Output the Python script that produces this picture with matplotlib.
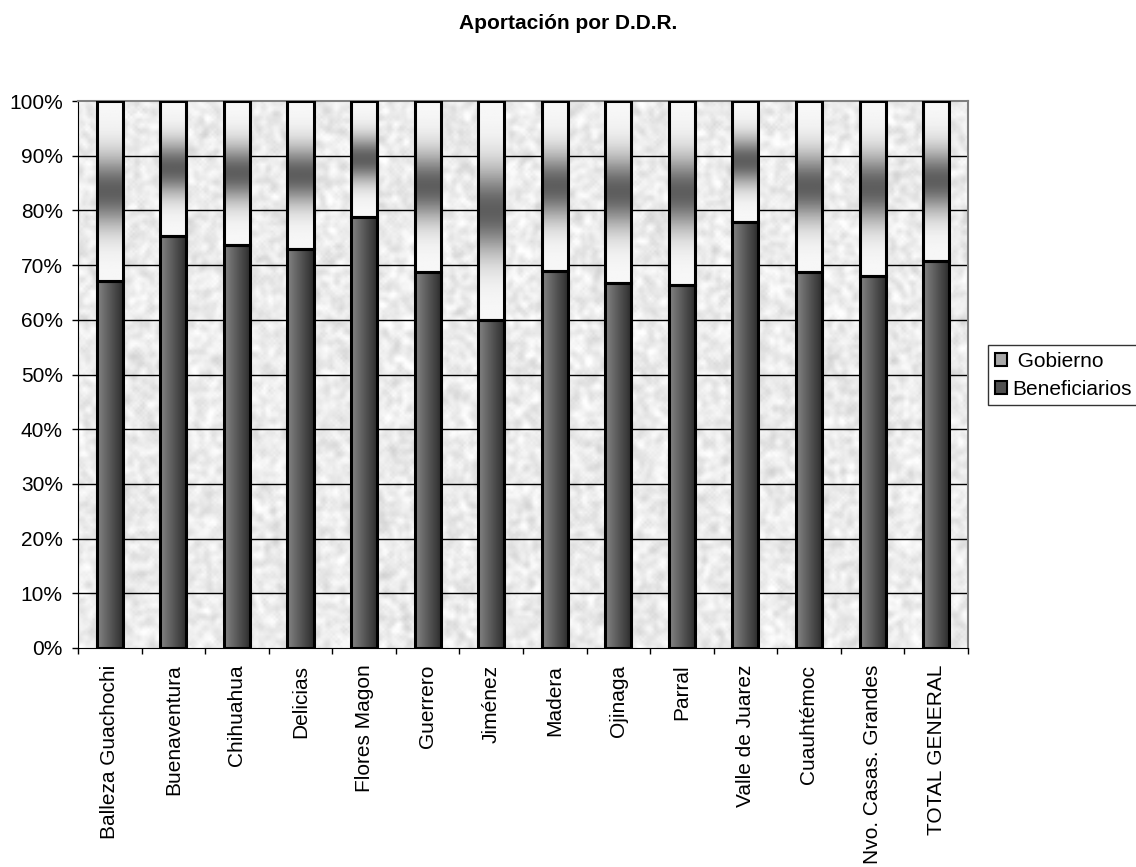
import matplotlib
matplotlib.use('Agg')
import matplotlib.pyplot as plt
from matplotlib.patches import Patch
import numpy as np

plt.rcParams['font.family'] = ['Liberation Sans', 'DejaVu Sans']

# datos
distritos = ['Balleza Guachochi', 'Buenaventura', 'Chihuahua', 'Delicias',
             'Flores Magon', 'Guerrero', 'Jiménez', 'Madera', 'Ojinaga',
             'Parral', 'Valle de Juarez', 'Cuauhtémoc', 'Nvo. Casas. Grandes',
             'TOTAL GENERAL']
beneficiarios = [67.1, 75.3, 73.7, 73.0, 78.8, 68.7, 60.0, 69.0, 66.7,
                 66.3, 77.8, 68.8, 68.0, 70.7]
gobierno = [100 - b for b in beneficiarios]
y_ticks = [0, 10, 20, 30, 40, 50, 60, 70, 80, 90, 100]

fig = plt.figure(figsize=(11.36, 8.67), dpi=100)
ax = fig.add_axes([0.0687, 0.2526, 0.7833, 0.6309])

x = np.arange(len(distritos))
ancho = 0.41

# fondo tipo granito
rng = np.random.default_rng(7)
ruido = rng.random((220, 360))
for _ in range(2):
    ruido = (ruido + np.roll(ruido, 1, 0) + np.roll(ruido, -1, 0)
             + np.roll(ruido, 1, 1) + np.roll(ruido, -1, 1)) / 5.0
ruido = (ruido - ruido.mean()) / ruido.std()
fondo = np.clip(0.925 + 0.03 * ruido, 0.78, 1.0)
ax.imshow(fondo, cmap='gray', vmin=0, vmax=1, extent=(-0.5, len(distritos) - 0.5, 0, 100),
          aspect='auto', zorder=0, interpolation='bilinear')

# barras
b1 = ax.bar(x, beneficiarios, ancho, facecolor='none', edgecolor='black', lw=2.2, zorder=4)
b2 = ax.bar(x, gobierno, ancho, bottom=beneficiarios, facecolor='none',
            edgecolor='black', lw=2.2, zorder=4)

grad_h = np.linspace(0.52, 0.17, 64).reshape(1, -1)
t = np.linspace(0, 1, 128)
grad_v = (0.97 - 0.6 * np.exp(-((t - 0.5) / 0.2) ** 2)).reshape(-1, 1)

for bar in b1:
    x0, y0 = bar.get_x(), bar.get_y()
    ax.imshow(grad_h, cmap='gray', vmin=0, vmax=1, aspect='auto', zorder=3,
              extent=(x0, x0 + bar.get_width(), y0, y0 + bar.get_height()))
for bar in b2:
    x0, y0 = bar.get_x(), bar.get_y()
    ax.imshow(grad_v, cmap='gray', vmin=0, vmax=1, aspect='auto', zorder=3,
              extent=(x0, x0 + bar.get_width(), y0, y0 + bar.get_height()))

ax.set_xlim(-0.5, len(distritos) - 0.5)
ax.set_ylim(0, 100)

# rejilla
for y in y_ticks[1:-1]:
    ax.axhline(y, color='black', lw=1, zorder=1)

ax.set_yticks(y_ticks)
ax.set_yticklabels(['%d%%' % v for v in y_ticks], fontsize=15)
ax.set_xticks(x)
ax.set_xticklabels(distritos, rotation=90, fontsize=15)
ax.set_xticks(np.arange(-0.5, len(distritos)), minor=True)
ax.tick_params(axis='x', which='major', length=0, pad=12)
ax.tick_params(axis='x', which='minor', length=4.5, width=1)
ax.tick_params(axis='y', length=4, width=1, pad=7)

for s in ['top', 'right']:
    ax.spines[s].set_color('#808080')
    ax.spines[s].set_linewidth(1.5)
for s in ['left', 'bottom']:
    ax.spines[s].set_color('black')

fig.text(0.5, 0.973, 'Aportación por D.D.R.', ha='center', va='center',
         fontsize=15, fontweight='bold')

handles = [Patch(facecolor='#a8a8a8', edgecolor='black', lw=1.5),
           Patch(facecolor='#505050', edgecolor='black', lw=1.5)]
leg = fig.legend(handles, [' Gobierno', 'Beneficiarios'], loc='center left',
                 bbox_to_anchor=(0.870, 0.567), fontsize=15, frameon=True,
                 fancybox=False, edgecolor='black', handlelength=0.6,
                 handleheight=0.6, handletextpad=0.25, borderpad=0.3,
                 labelspacing=0.45, borderaxespad=0)
leg.get_frame().set_linewidth(1)

fig.savefig('out.png', dpi=100)
